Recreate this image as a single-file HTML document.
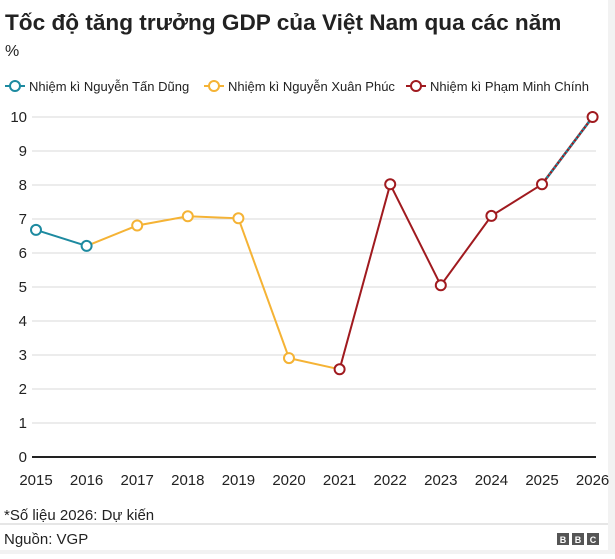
<!DOCTYPE html><html><head><meta charset="utf-8"><style>
body{margin:0;background:#fff;font-family:"Liberation Sans",sans-serif;}
</style></head><body>
<svg width="615" height="554" xmlns="http://www.w3.org/2000/svg" font-family="Liberation Sans, sans-serif">
<rect x="0" y="0" width="615" height="554" fill="#fff"/>
<rect x="608" y="0" width="7" height="554" fill="#f2f2f2"/>
<rect x="0" y="550" width="615" height="4" fill="#f2f2f2"/>
<text x="5" y="30" font-size="22.6" font-weight="bold" fill="#222">Tốc độ tăng trưởng GDP của Việt Nam qua các năm</text>
<text x="5" y="56" font-size="16" fill="#222">%</text>
<g font-size="13" fill="#222">
<line x1="5" y1="86" x2="25" y2="86" stroke="#1d8aa0" stroke-width="2"/><circle cx="15" cy="86" r="5" fill="#fff" stroke="#1d8aa0" stroke-width="2"/>
<text x="29" y="91">Nhiệm kì Nguyễn Tấn Dũng</text>
<line x1="204" y1="86" x2="224" y2="86" stroke="#f5b335" stroke-width="2"/><circle cx="214" cy="86" r="5" fill="#fff" stroke="#f5b335" stroke-width="2"/>
<text x="228" y="91">Nhiệm kì Nguyễn Xuân Phúc</text>
<line x1="406" y1="86" x2="426" y2="86" stroke="#a01a1f" stroke-width="2"/><circle cx="416" cy="86" r="5" fill="#fff" stroke="#a01a1f" stroke-width="2"/>
<text x="430" y="91">Nhiệm kì Phạm Minh Chính</text>
</g>
<g stroke="#d9d9d9" stroke-width="1">
<line x1="32" y1="117" x2="596" y2="117"/><line x1="32" y1="151" x2="596" y2="151"/><line x1="32" y1="185" x2="596" y2="185"/><line x1="32" y1="219" x2="596" y2="219"/><line x1="32" y1="253" x2="596" y2="253"/><line x1="32" y1="287" x2="596" y2="287"/><line x1="32" y1="321" x2="596" y2="321"/><line x1="32" y1="355" x2="596" y2="355"/><line x1="32" y1="389" x2="596" y2="389"/><line x1="32" y1="423" x2="596" y2="423"/>
</g>
<line x1="32" y1="457" x2="596" y2="457" stroke="#222" stroke-width="2"/>
<g font-size="15" fill="#222" text-anchor="end">
<text x="27" y="122">10</text><text x="27" y="156">9</text><text x="27" y="190">8</text><text x="27" y="224">7</text><text x="27" y="258">6</text><text x="27" y="292">5</text><text x="27" y="326">4</text><text x="27" y="360">3</text><text x="27" y="394">2</text><text x="27" y="428">1</text><text x="27" y="462">0</text>
</g>
<g font-size="15" fill="#222" text-anchor="middle">
<text x="36" y="485">2015</text><text x="86.6" y="485">2016</text><text x="137.2" y="485">2017</text><text x="187.8" y="485">2018</text><text x="238.4" y="485">2019</text><text x="289" y="485">2020</text><text x="339.6" y="485">2021</text><text x="390.2" y="485">2022</text><text x="440.8" y="485">2023</text><text x="491.4" y="485">2024</text><text x="542" y="485">2025</text><text x="592.6" y="485">2026</text>
</g>
<polyline points="36,229.9 86.6,245.9" fill="none" stroke="#1d8aa0" stroke-width="2"/>
<polyline points="86.6,245.9 137.2,225.5 187.8,216.3 238.4,218.3 289,358.1 339.6,369.3" fill="none" stroke="#f5b335" stroke-width="2"/>
<polyline points="339.6,369.3 390.2,184.3 440.8,285.3 491.4,215.9 542,184.3" fill="none" stroke="#a01a1f" stroke-width="2"/>
<line x1="542" y1="184.3" x2="592.6" y2="117" stroke="#a01a1f" stroke-width="2.5"/>
<line x1="542" y1="184.3" x2="592.6" y2="117" stroke="#1d8aa0" stroke-width="2.5" stroke-dasharray="2,2"/>
<circle cx="36" cy="229.9" r="5" fill="#fff" stroke="#1d8aa0" stroke-width="2"/>
<circle cx="86.6" cy="245.9" r="5" fill="#fff" stroke="#1d8aa0" stroke-width="2"/>
<g fill="#fff" stroke="#f5b335" stroke-width="2">
<circle cx="137.2" cy="225.5" r="5"/><circle cx="187.8" cy="216.3" r="5"/><circle cx="238.4" cy="218.3" r="5"/><circle cx="289" cy="358.1" r="5"/>
</g>
<g fill="#fff" stroke="#a01a1f" stroke-width="2">
<circle cx="339.6" cy="369.3" r="5"/><circle cx="390.2" cy="184.3" r="5"/><circle cx="440.8" cy="285.3" r="5"/><circle cx="491.4" cy="215.9" r="5"/><circle cx="542" cy="184.3" r="5"/><circle cx="592.6" cy="117" r="5"/>
</g>
<text x="4" y="520" font-size="15" fill="#222">*Số liệu 2026: Dự kiến</text>
<line x1="0" y1="524" x2="608" y2="524" stroke="#ccc" stroke-width="1"/>
<text x="4" y="544" font-size="15" fill="#222">Nguồn: VGP</text>
<g font-size="9" font-weight="bold" fill="#fff" text-anchor="middle">
<rect x="557" y="533" width="12" height="12" fill="#555"/><text x="563" y="543">B</text>
<rect x="572" y="533" width="12" height="12" fill="#555"/><text x="578" y="543">B</text>
<rect x="587" y="533" width="12" height="12" fill="#555"/><text x="593" y="543">C</text>
</g>
</svg>
</body></html>
